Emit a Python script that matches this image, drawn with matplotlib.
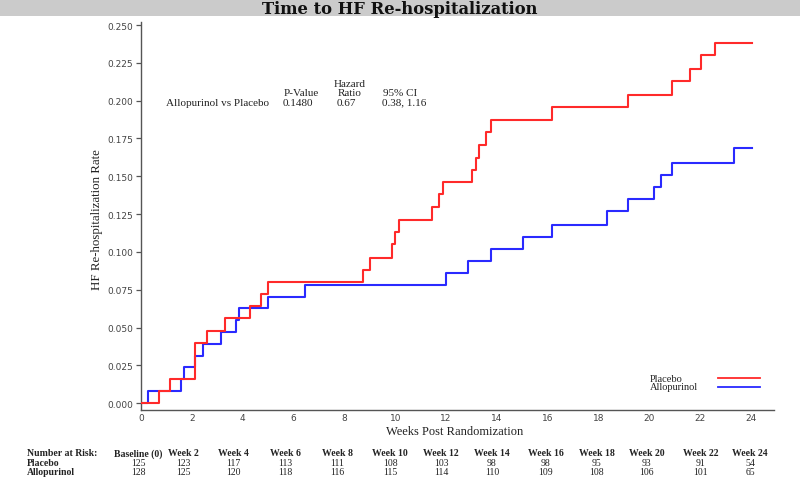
import matplotlib
matplotlib.use("Agg")
import matplotlib.pyplot as plt
from matplotlib.patches import Rectangle
from matplotlib.lines import Line2D

# ---------------- data ----------------
placebo_t = [0, 0.72, 1.14, 2.14, 2.58, 3.30, 4.29, 4.72, 5.01, 8.72, 9.01, 9.87,
             10.00, 10.14, 11.43, 11.74, 11.89, 13.03, 13.17, 13.30, 13.58, 13.76,
             16.16, 19.17, 20.89, 21.60, 22.02, 22.59, 24.04]
placebo_y = [0, 0.008, 0.016, 0.040, 0.048, 0.056, 0.064, 0.072, 0.080, 0.088, 0.096, 0.105,
             0.113, 0.121, 0.130, 0.138, 0.146, 0.154, 0.162, 0.171, 0.179, 0.187,
             0.196, 0.204, 0.213, 0.221, 0.230, 0.238, 0.238]

allo_t = [0, 0.29, 1.56, 1.70, 2.14, 2.43, 3.15, 3.72, 3.87, 5.01, 6.44, 12.01,
          12.88, 13.76, 15.01, 16.16, 18.32, 19.17, 20.17, 20.46, 20.89, 23.32, 24.04]
allo_y = [0, 0.008, 0.016, 0.024, 0.031, 0.039, 0.047, 0.055, 0.063, 0.070, 0.078, 0.086,
          0.094, 0.102, 0.110, 0.118, 0.127, 0.135, 0.143, 0.151, 0.159, 0.169, 0.169]

risk_weeks = [0, 2, 4, 6, 8, 10, 12, 14, 16, 18, 20, 22, 24]
risk_headers = ["Baseline (0)", "Week 2", "Week 4", "Week 6", "Week 8", "Week 10", "Week 12",
                "Week 14", "Week 16", "Week 18", "Week 20", "Week 22", "Week 24"]
risk_placebo = [125, 123, 117, 113, 111, 108, 103, 98, 98, 95, 93, 91, 54]
risk_allo = [128, 125, 120, 118, 116, 115, 114, 110, 109, 108, 106, 101, 65]

x_ticks = list(range(0, 25, 2))
y_ticks = [0.000, 0.025, 0.050, 0.075, 0.100, 0.125, 0.150, 0.175, 0.200, 0.225, 0.250]

RED = "#ff2a2a"
BLUE = "#2a2aff"
SERIF = ["Liberation Serif", "DejaVu Serif"]
SANS = ["DejaVu Sans"]

W, H = 800, 489
fig = plt.figure(figsize=(W / 100, H / 100), dpi=100)
fig.patch.set_facecolor("white")

def fx(px):
    return px / W

def fy(py):
    return 1 - py / H

# title band
fig.patches.append(Rectangle((0, fy(17)), 1, 17 / H, transform=fig.transFigure,
                             facecolor="#cbcbcb", edgecolor="none", zorder=0))
fig.text(0.5, fy(9), "Time to HF Re-hospitalization", ha="center", va="center",
         fontsize=11.8, fontweight="bold", family=["DejaVu Serif"], color="#111111")

ax = fig.add_axes([fx(141), fy(411), fx(774) - fx(141), fy(23) - fy(411)])
ax.step(placebo_t, placebo_y, where="post", color=RED, lw=1.5, label="Placebo", zorder=3)
ax.step(allo_t, allo_y, where="post", color=BLUE, lw=1.5, label="Allopurinol", zorder=2)

ax.set_xlim(0, 24.9)
ax.set_ylim(-0.0045, 0.252)
ax.set_xticks(x_ticks)
ax.set_yticks(y_ticks)
ax.set_yticklabels([f"{v:.3f}" for v in y_ticks])
for s in ("top", "right"):
    ax.spines[s].set_visible(False)
for s in ("left", "bottom"):
    ax.spines[s].set_color("#555555")
    ax.spines[s].set_linewidth(1.0)
ax.tick_params(axis="y", length=3.5, width=0.9, color="#555555", labelsize=6.5,
               labelcolor="#444444", pad=2)
ax.tick_params(axis="x", length=0, labelsize=6.5, labelcolor="#444444", pad=2.5)
for lab in ax.get_xticklabels() + ax.get_yticklabels():
    lab.set_family(SANS)

ax.set_ylabel("HF Re-hospitalization Rate", family=SERIF, fontsize=9.3, color="#222222")
ax.yaxis.set_label_coords(-(141 - 97) / (774 - 141), (411 - 220) / (411 - 23))
ax.set_xlabel("Weeks Post Randomization", family=SERIF, fontsize=9, color="#222222")
ax.xaxis.set_label_coords((455 - 141) / (774 - 141), -(432 - 411) / (411 - 23))
ax.xaxis.label.set_va("center")
ax.yaxis.label.set_va("center")

# legend (manual, text left-aligned, sample line on the right)
for name, col, py in (("Placebo", RED, 379), ("Allopurinol", BLUE, 388)):
    fig.text(fx(650), fy(py), name, ha="left", va="center", family=SERIF, fontsize=7.5,
             color="#222222")
    fig.lines.append(Line2D([fx(718), fx(760)], [fy(py), fy(py)], transform=fig.transFigure,
                            color=col, lw=1.3))

# annotation
ann_kw = dict(family=SERIF, fontsize=8, color="#222222", va="center")
fig.text(fx(166), fy(103), "Allopurinol vs Placebo", ha="left", **ann_kw)
fig.text(fx(301), fy(94), "P-Value", ha="center", **ann_kw)
fig.text(fx(283), fy(103), "0.1480", ha="left", **ann_kw)
fig.text(fx(350), fy(85), "Hazard", ha="center", **ann_kw)
fig.text(fx(350), fy(94), "Ratio", ha="center", **ann_kw)
fig.text(fx(337), fy(103), "0.67", ha="left", **ann_kw)
fig.text(fx(400), fy(94), "95% CI", ha="center", **ann_kw)
fig.text(fx(382), fy(103), "0.38, 1.16", ha="left", **ann_kw)

# number at risk table
tab_kw = dict(family=SERIF, fontsize=7, color="#222222", va="center")
fig.text(fx(27), fy(454), "Number at Risk:", ha="left", fontweight="bold", **tab_kw)
fig.text(fx(27), fy(464), "Placebo", ha="left", fontweight="bold", **tab_kw)
fig.text(fx(27), fy(473), "Allopurinol", ha="left", fontweight="bold", **tab_kw)
offsets = [-3, -8, -9, -8, -7, -5, -5, -5, -2, -2, -3, 0, -1]
for wk, hdr, p, a, off in zip(risk_weeks, risk_headers, risk_placebo, risk_allo, offsets):
    xd = ax.transData.transform((wk, 0))[0] + off
    xf = fig.transFigure.inverted().transform((xd, 0))[0]
    fig.text(xf, fy(454), hdr, ha="center", fontweight="bold", **tab_kw)
    fig.text(xf, fy(464), str(p), ha="center", **tab_kw)
    fig.text(xf, fy(473), str(a), ha="center", **tab_kw)

fig.savefig("out.png", dpi=100)
